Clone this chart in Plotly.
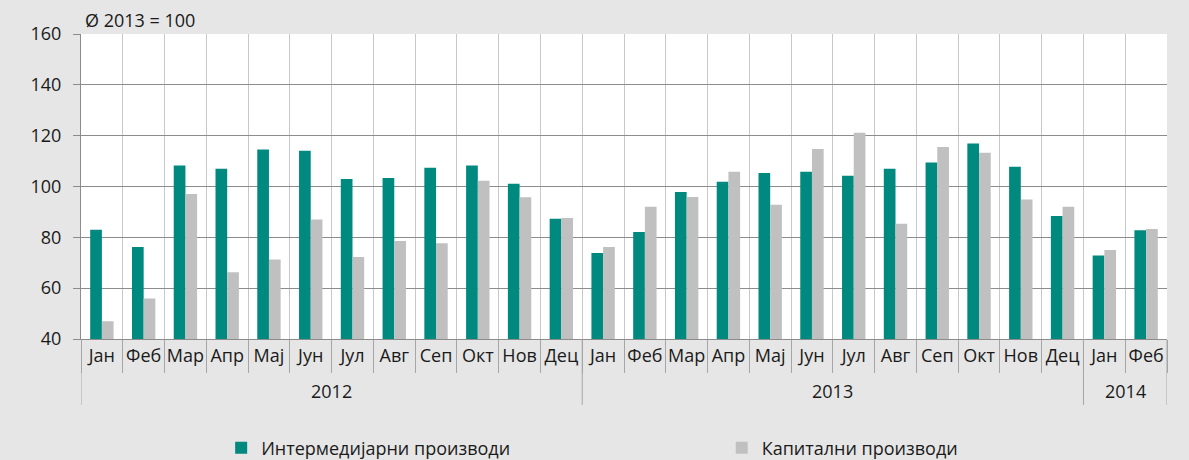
import plotly.graph_objects as go

months = ["Јан", "Феб", "Мар", "Апр", "Мај", "Јун", "Јул", "Авг", "Сеп", "Окт", "Нов", "Дец",
          "Јан", "Феб", "Мар", "Апр", "Мај", "Јун", "Јул", "Авг", "Сеп", "Окт", "Нов", "Дец",
          "Јан", "Феб"]
years = ["2012"] * 12 + ["2013"] * 12 + ["2014"] * 2

intermediate = [83.0, 76.2, 108.3, 107.0, 114.6, 114.1, 103.0, 103.3, 107.4, 108.3, 101.1, 87.3,
                73.8, 82.1, 97.8, 101.9, 105.3, 105.8, 104.2, 107.0, 109.4, 116.9, 107.8, 88.4,
                72.9, 82.8]
capital = [47.0, 55.9, 97.0, 66.3, 71.3, 87.0, 72.3, 78.6, 77.7, 102.3, 95.8, 87.6,
           76.2, 92.0, 95.9, 105.8, 92.8, 114.8, 121.1, 85.3, 115.5, 113.3, 94.9, 92.0,
           75.0, 83.3]

name_int = "Интермедијарни производи"
name_cap = "Капитални производи"
subtitle = "Ø 2013 = 100"

FONT = "Open Sans"
TXT = "#1a1a1a"
FS = 18
DIV = "#a6a6a6"

n = len(months)
xs = list(range(n))
boundaries = [i - 0.5 for i in range(n + 1)]

# year groups: (label, first index, last index)
groups = []
for i, y in enumerate(years):
    if groups and groups[-1][0] == y:
        groups[-1][2] = i
    else:
        groups.append([y, i, i])

fig = go.Figure()
fig.add_trace(go.Bar(x=xs, y=intermediate, name=name_int, legend="legend",
                     customdata=list(zip(months, years)),
                     hovertemplate="%{customdata[0]} %{customdata[1]}: %{y}<extra></extra>",
                     marker=dict(color="#00897f", line=dict(width=0))))
fig.add_trace(go.Bar(x=xs, y=capital, name=name_cap, legend="legend2",
                     customdata=list(zip(months, years)),
                     hovertemplate="%{customdata[0]} %{customdata[1]}: %{y}<extra></extra>",
                     marker=dict(color="#c0c0c0", line=dict(width=0))))

leg_common = dict(orientation="h", xanchor="left", yanchor="middle",
                  xref="container", yref="container", y=0.026,
                  font=dict(family=FONT, size=FS, color=TXT), bgcolor="rgba(0,0,0,0)")

fig.update_layout(
    width=1189, height=460,
    margin=dict(l=81, r=22, t=34, b=121),
    paper_bgcolor="#e6e6e6",
    plot_bgcolor="#ffffff",
    barmode="group",
    bargap=0.44,
    bargroupgap=0,
    font=dict(family=FONT, size=FS, color=TXT),
    showlegend=True,
    legend=dict(x=0.186, **leg_common),
    legend2=dict(x=0.607, **leg_common),
)

fig.update_yaxes(range=[40, 160], dtick=20, tick0=40, automargin=False,
                 showgrid=True, gridcolor="#8c8c8c", gridwidth=1,
                 showline=True, linecolor="#8c8c8c", linewidth=1,
                 ticks="outside", ticklen=7, tickcolor="#8c8c8c",
                 ticklabelstandoff=8,
                 tickfont=dict(family=FONT, size=FS, color=TXT),
                 zeroline=False)

fig.update_xaxes(range=[-0.5, n - 0.5], automargin=False,
                 tickmode="array", tickvals=xs, ticktext=months, tickangle=0,
                 ticks="", showgrid=False,
                 showline=True, linecolor="#8c8c8c", zeroline=False,
                 tickfont=dict(family=FONT, size=FS, color=TXT),
                 minor=dict(tickmode="array", tickvals=boundaries, ticks="outside",
                            ticklen=33, tickcolor=DIV, tickwidth=1,
                            showgrid=True, gridcolor="#c8c8c8", gridwidth=1))

for label, i0, i1 in groups:
    fig.add_annotation(text=label, xref="x", yref="paper", x=(i0 + i1) / 2, y=-0.1705,
                       xanchor="center", yanchor="middle", showarrow=False,
                       font=dict(family=FONT, size=FS, color=TXT))

div_x = [boundaries[0]] + [g[2] + 0.5 for g in groups]
for xv in div_x:
    fig.add_shape(type="line", xref="x", yref="paper", x0=xv, x1=xv, y0=0, y1=-0.216,
                  line=dict(color=DIV, width=1), layer="above")

fig.add_annotation(text=subtitle, xref="paper", yref="paper", x=0.002, y=1.0,
                   xanchor="left", yanchor="bottom", showarrow=False,
                   font=dict(family=FONT, size=FS, color=TXT))

fig.write_html("out.html", config={"displayModeBar": False},
               post_script="document.body.style.margin='0';")
